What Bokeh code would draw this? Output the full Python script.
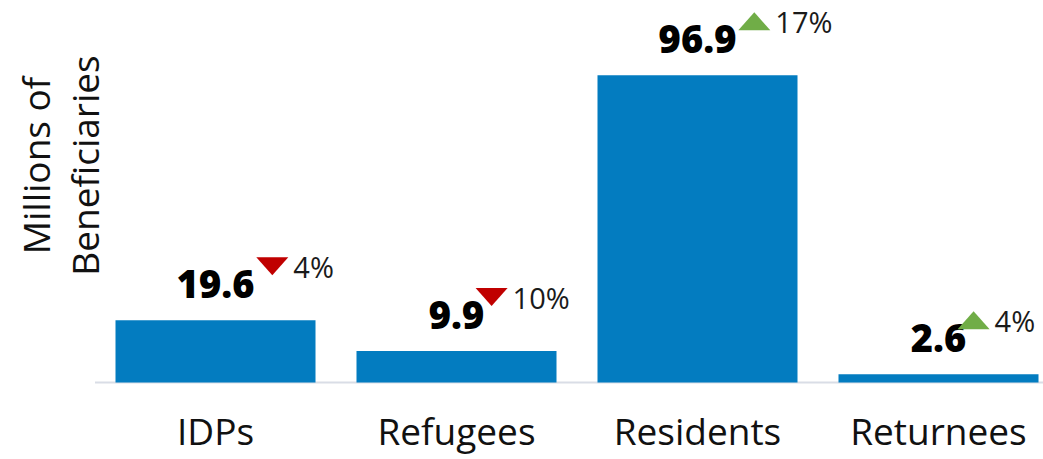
import math
from bokeh.plotting import figure
from bokeh.models import Range1d, FixedTicker, Label
from bokeh.core.properties import value
from bokeh.embed import file_html
from bokeh.resources import INLINE

# ---- data ----
categories = ["IDPs", "Refugees", "Residents", "Returnees"]
beneficiaries = [19.6, 9.9, 96.9, 2.6]          # millions
change_pct = [-4, -10, 17, 4]                   # % change
value_labels = ["19.6", "9.9", "96.9", "2.6"]
change_labels = ["4%", "10%", "17%", "4%"]
y_title_lines = ["Millions of", "Beneficiaries"]

# ---- geometry / style ----
W, H = 1043, 459
MB = 75                       # bottom border (x-axis labels)
FW, FH = W, H - MB
STEP_PX = 241.0               # pixels per category band
LEFT_PAD_PX = 94.5            # room for the y title
X0 = -LEFT_PAD_PX / STEP_PX
X1 = X0 + FW / STEP_PX
XPX = FW / (X1 - X0)
YPX = 3.17                    # pixels per million
Y0 = -2.0 / YPX
Y1 = Y0 + FH / YPX

BAR = "#037cc0"
UP = "#70ad47"
DOWN = "#c00000"
AXIS = "#d9dde6"
FONT = "Open Sans"
HEAVY_FONT = "'Open Sans ExtraBold', 'Open Sans'"

xs = [i + 0.5 for i in range(len(categories))]

p = figure(width=W, height=H, output_backend="svg", toolbar_location=None,
           x_range=Range1d(X0, X1), y_range=Range1d(Y0, Y1),
           y_axis_location=None,
           min_border_left=0, min_border_right=0, min_border_top=0,
           min_border_bottom=MB)
p.outline_line_color = None
p.xgrid.visible = False
p.ygrid.visible = False
p.background_fill_color = "white"
p.border_fill_color = "white"

# baseline under the bars
p.segment(x0=[0], y0=[0], x1=[len(categories)], y1=[0],
          line_color=AXIS, line_width=2)

p.vbar(x=xs, top=beneficiaries, bottom=0, width=200 / STEP_PX,
       fill_color=BAR, line_color=None)

# value labels
p.text(x=xs, y=beneficiaries, text=value_labels, y_offset=-36,
       text_align="center", text_baseline="alphabetic",
       text_font=value(HEAVY_FONT), text_font_style="bold",
       text_font_size="38px", text_color="#000000")

# change triangles
DIGIT_PX = 21.7
HW, HH = 16 / XPX, 9 / YPX
tri_xs, tri_ys, tri_colors = [], [], []
for x, v, c, lab in zip(xs, beneficiaries, change_pct, value_labels):
    cx = x + (DIGIT_PX * len(lab) - 30) / XPX
    cy = v + 54 / YPX
    tri_xs.append([cx - HW, cx + HW, cx])
    if c >= 0:
        tri_ys.append([cy - HH, cy - HH, cy + HH])
        tri_colors.append(UP)
    else:
        tri_ys.append([cy + HH, cy + HH, cy - HH])
        tri_colors.append(DOWN)
p.patches(tri_xs, tri_ys, fill_color=tri_colors, line_color=None)

# change percent labels
pct_offsets = [DIGIT_PX * len(lab) - 9 for lab in value_labels]
p.text(x=xs, y=beneficiaries, text=change_labels, x_offset=pct_offsets,
       y_offset=-54, text_align="left", text_baseline="alphabetic",
       text_font=value(FONT), text_font_size="29px", text_color="#1a1a1a")

# x axis (category names)
p.xaxis.ticker = FixedTicker(ticks=xs)
p.xaxis.major_label_overrides = {x: c for x, c in zip(xs, categories)}
p.xaxis.major_tick_line_color = None
p.xaxis.minor_tick_line_color = None
p.xaxis.axis_line_color = None
p.xaxis.major_label_standoff = 14
p.xaxis.major_label_text_font = FONT
p.xaxis.major_label_text_font_size = "37px"
p.xaxis.major_label_text_color = "#111111"

# y title (two lines, rotated)
for xoff, txt in zip([35, 84], y_title_lines):
    p.add_layout(Label(x=xoff, y=219, x_units="screen", y_units="screen",
                       text=txt, angle=math.pi / 2, text_align="center",
                       text_baseline="alphabetic", text_font=FONT,
                       text_font_size="37px", text_color="#111111"))

open("out.html", "w").write(file_html(p, INLINE))
